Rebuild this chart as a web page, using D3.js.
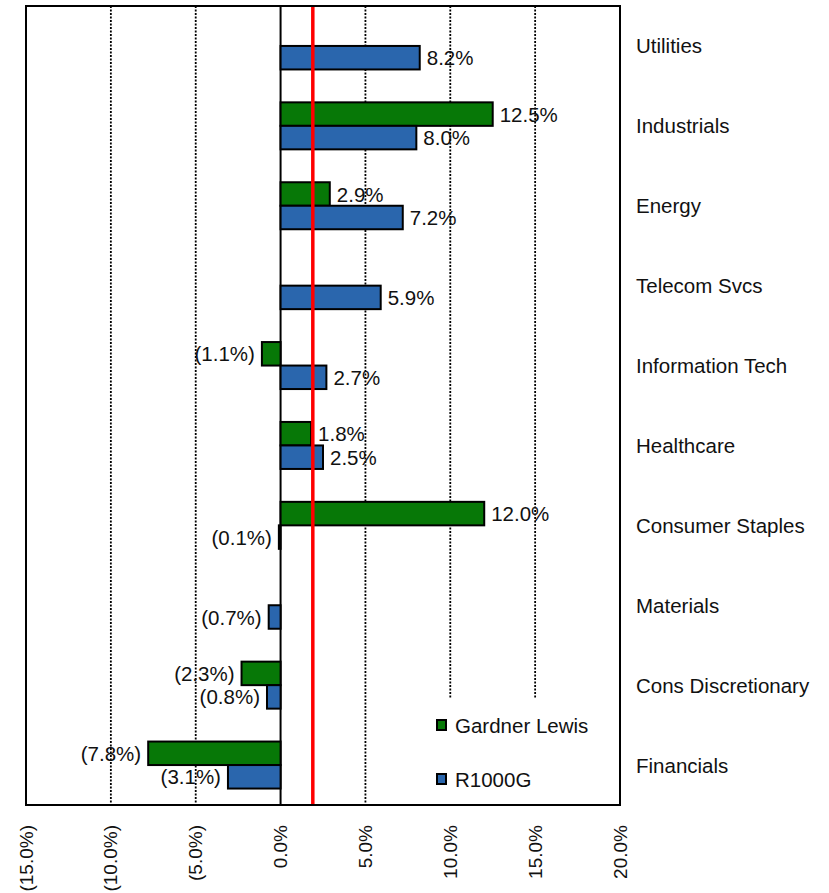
<!DOCTYPE html>
<html>
<head>
<meta charset="utf-8">
<script src="https://cdn.jsdelivr.net/npm/d3@7"></script>
<style>
  html, body { margin: 0; padding: 0; background: #fff; }
  svg { display: block; font-family: "Liberation Sans", Arial, sans-serif; }
</style>
</head>
<body>
<svg id="chart" width="829" height="893"></svg>
<script>
const categories = ["Utilities", "Industrials", "Energy", "Telecom Svcs", "Information Tech",
  "Healthcare", "Consumer Staples", "Materials", "Cons Discretionary", "Financials"];
const seriesNames = ["Gardner Lewis", "R1000G"];
const gardnerLewis = [null, 12.5, 2.9, null, -1.1, 1.8, 12.0, null, -2.3, -7.8];
const r1000g = [8.2, 8.0, 7.2, 5.9, 2.7, 2.5, -0.1, -0.7, -0.8, -3.1];
const xTicks = [-15, -10, -5, 0, 5, 10, 15, 20];
const redLineValue = 1.9;
const colors = ["#077807", "#2a66ad"];

(function () {
const svg = d3.select("#chart");
const pLeft = 26, pRight = 620, pTop = 6, pBottom = 805;
const fontSize = 20.5;

const x = d3.scaleLinear().domain([-15, 20]).range([pLeft, pRight]);
const y = d3.scaleBand().domain(categories).range([pTop, pBottom]).padding(0);
const ys = d3.scaleBand().domain(seriesNames).range([0, y.bandwidth()]).paddingInner(0).paddingOuter(0.7);

const fmt = v => v < 0 ? "(" + Math.abs(v).toFixed(1) + "%)" : v.toFixed(1) + "%";

// gridlines (dotted) at interior ticks except 0
svg.append("g").selectAll("line")
  .data(xTicks.filter(t => t !== 0 && t !== -15 && t !== 20))
  .join("line")
  .attr("x1", d => x(d)).attr("x2", d => x(d))
  .attr("y1", pTop).attr("y2", pBottom)
  .attr("stroke", "#000").attr("stroke-width", 1.8)
  .attr("stroke-dasharray", "2,1.5");

// legend background (covers gridlines)
const legendX = 425, legendY = 699;
svg.append("rect").attr("x", legendX).attr("y", legendY)
  .attr("width", pRight - legendX).attr("height", pBottom - legendY)
  .attr("fill", "#fff");

// zero line
svg.append("line").attr("x1", x(0)).attr("x2", x(0)).attr("y1", pTop).attr("y2", pBottom)
  .attr("stroke", "#000").attr("stroke-width", 2);

// bars
const rows = [];
categories.forEach((c, i) => {
  [gardnerLewis[i], r1000g[i]].forEach((v, s) => {
    if (v !== null) rows.push({ cat: c, series: seriesNames[s], s, v });
  });
});

svg.append("g").selectAll("rect")
  .data(rows)
  .join("rect")
  .attr("x", d => Math.min(x(0), x(d.v)))
  .attr("y", d => y(d.cat) + ys(d.series))
  .attr("width", d => Math.max(Math.abs(x(d.v) - x(0)), 1.5))
  .attr("height", ys.bandwidth())
  .attr("fill", d => colors[d.s])
  .attr("stroke", "#000").attr("stroke-width", 2);

// value labels
svg.append("g").selectAll("text")
  .data(rows)
  .join("text")
  .attr("x", d => d.v < 0 ? x(d.v) - 7 : x(d.v) + 7)
  .attr("y", d => y(d.cat) + ys(d.series) + ys.bandwidth() / 2)
  .attr("dominant-baseline", "central")
  .attr("text-anchor", d => d.v < 0 ? "end" : "start")
  .attr("font-size", fontSize)
  .attr("fill", "#111")
  .text(d => fmt(d.v));

// red reference line
svg.append("line").attr("x1", x(redLineValue)).attr("x2", x(redLineValue))
  .attr("y1", pTop).attr("y2", pBottom)
  .attr("stroke", "#ff0000").attr("stroke-width", 3.5);

// frame
svg.append("rect").attr("x", pLeft).attr("y", pTop)
  .attr("width", pRight - pLeft).attr("height", pBottom - pTop)
  .attr("fill", "none").attr("stroke", "#000").attr("stroke-width", 2);

// legend
seriesNames.forEach((n, i) => {
  const ly = [725, 779][i];
  svg.append("rect").attr("x", 437).attr("y", ly - 5).attr("width", 9).attr("height", 10)
    .attr("fill", colors[i]).attr("stroke", "#000").attr("stroke-width", 2);
  svg.append("text").attr("x", 455).attr("y", ly).attr("dominant-baseline", "central")
    .attr("font-size", fontSize).attr("fill", "#111").text(n);
});

// category labels on right
svg.append("g").selectAll("text")
  .data(categories)
  .join("text")
  .attr("x", 636)
  .attr("y", d => y(d) + y.bandwidth() / 2)
  .attr("dominant-baseline", "central")
  .attr("font-size", fontSize)
  .attr("fill", "#111")
  .text(d => d);

// x tick labels rotated
svg.append("g").selectAll("text")
  .data(xTicks)
  .join("text")
  .attr("transform", d => `translate(${x(d)},825) rotate(-90)`)
  .attr("text-anchor", "end")
  .attr("dominant-baseline", "central")
  .attr("font-size", 19)
  .attr("fill", "#111")
  .text(d => fmt(d));
})();
</script>
</body>
</html>
